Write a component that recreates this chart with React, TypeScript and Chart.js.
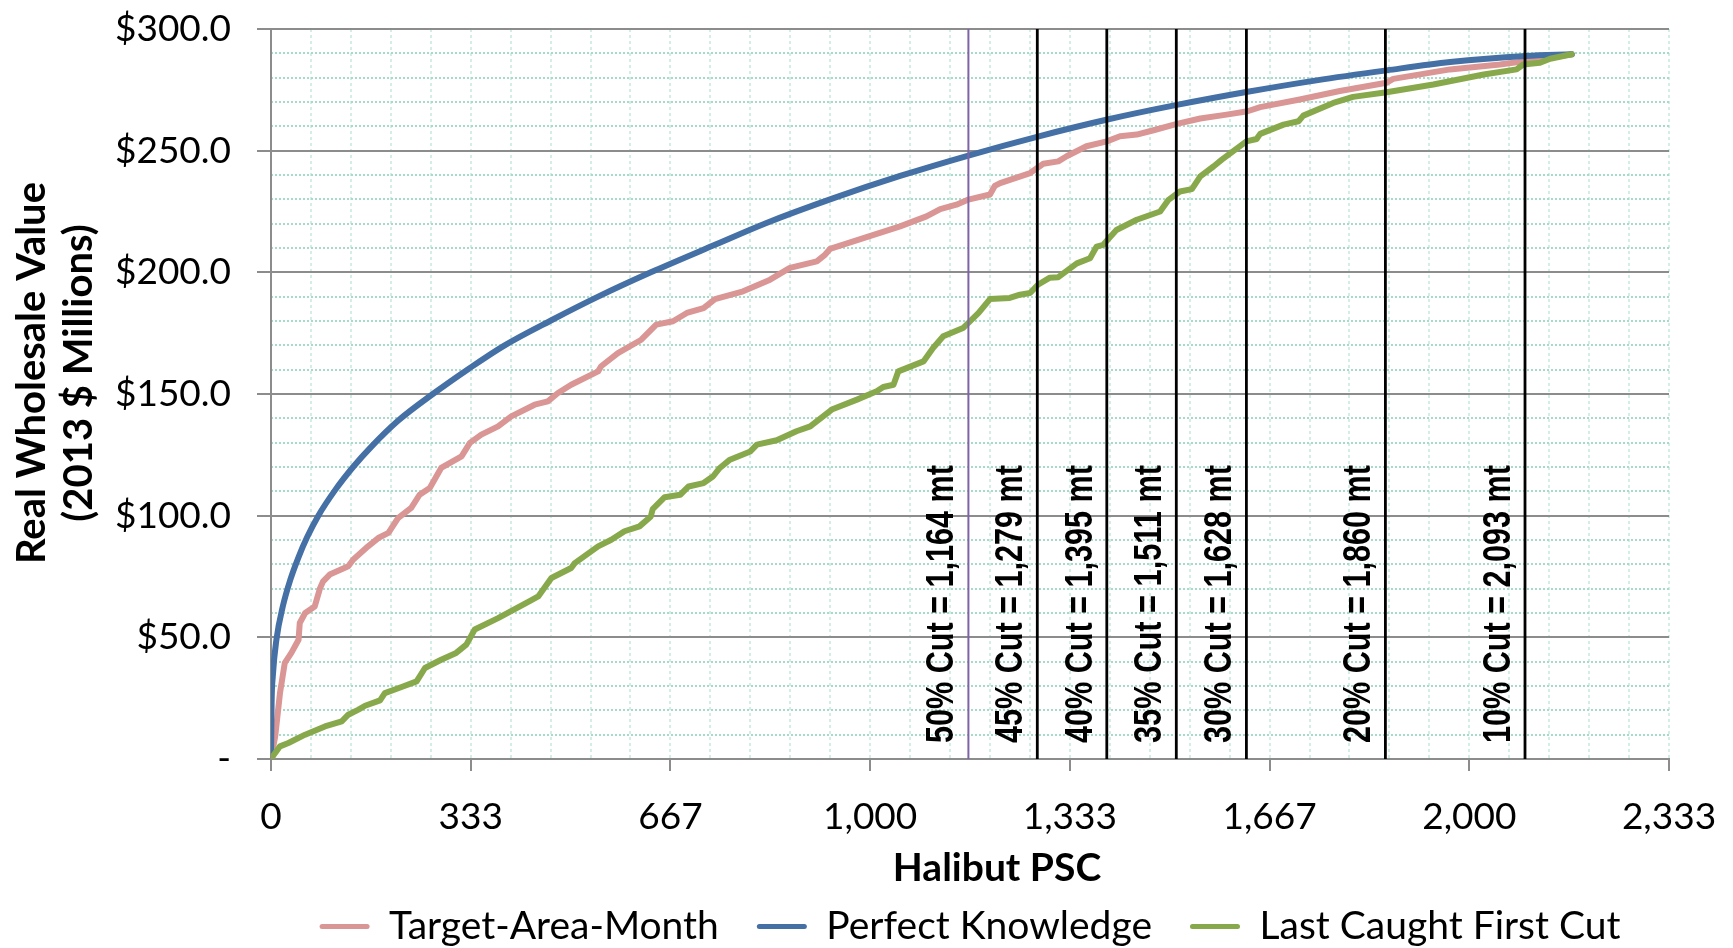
import { useEffect, useRef } from 'react';
import { Chart, registerables } from 'chart.js';

Chart.register(...registerables);

const FONT = 'Lato, "Open Sans", sans-serif';

const seriesNames = ['Target-Area-Month', 'Perfect Knowledge', 'Last Caught First Cut'];
const seriesColors = ['#d99694', '#4470a6', '#88a94b'];

const xTitle = 'Halibut PSC';
const yTitleLines = ['Real Wholesale Value', '(2013 $ Millions)'];

const targetAreaMonth: [number, number][] = [
  [0, 0], [7, 9.3], [15, 27.1], [23, 39.5], [34, 43.6], [46, 49], [48, 55.9], [57, 60], [73, 62.7],
  [82, 70.3], [87, 73], [98, 75.8], [129, 79.2], [137, 81.9], [162, 87.4], [179, 90.8], [196, 92.9],
  [212, 99], [234, 103.2], [248, 108.6], [265, 111.4], [284, 119.6], [318, 124.4], [332, 129.9],
  [351, 133.3], [379, 136.7], [401, 140.8], [440, 145.6], [462, 147], [479, 150.4], [501, 153.8],
  [546, 159.3], [551, 161.4], [579, 166.8], [618, 172.3], [643, 178.5], [671, 179.9], [694, 183.3],
  [722, 185.3], [741, 189], [788, 192.2], [833, 197], [866, 201.8], [911, 204.5], [925, 207.3],
  [933, 209.6], [994, 214.5], [1050, 218.9], [1094, 223], [1117, 226], [1144, 227.8], [1164, 229.9],
  [1200, 232], [1208, 235.5], [1217, 236.7], [1267, 240.8], [1289, 244.6], [1314, 245.6], [1328, 247.7],
  [1361, 251.8], [1395, 253.8], [1417, 255.9], [1445, 256.6], [1473, 258.4], [1512, 261], [1551, 263.2],
  [1595, 264.8], [1630, 266.2], [1651, 267.9], [1717, 271], [1784, 274.5], [1862, 277.9], [1873, 279.5],
  [1968, 283.4], [2051, 285.4], [2094, 286.8], [2124, 287.8], [2171, 289.6],
];

const perfectKnowledge: [number, number][] = [
  [0, 0], [1, 23], [3, 34], [9, 49], [20, 63], [32, 73.5], [46, 83], [60, 91], [79, 100],
  [107, 110.5], [137, 120], [168, 128.5], [212, 139], [273, 150.5], [329, 160.2], [390, 170],
  [468, 180.3], [546, 190], [634, 200], [738, 211], [827, 220.3], [939, 230.5], [1050, 239.6],
  [1164, 248], [1280, 255.8], [1396, 262.8], [1512, 268.8], [1630, 274.2], [1745, 278.9],
  [1862, 283], [1968, 286.4], [2094, 288.9], [2171, 289.6],
];

const lastCaughtFirstCut: [number, number][] = [
  [0, 0], [7, 2.5], [15, 5.2], [29, 6.6], [57, 10], [90, 13.4], [118, 15.5], [129, 18.2], [146, 20.3],
  [157, 21.9], [182, 24.1], [190, 27.1], [218, 29.6], [243, 31.9], [257, 37.4], [284, 40.8], [309, 43.6],
  [326, 47], [340, 53.2], [379, 57.9], [434, 65.2], [446, 66.8], [468, 74.4], [501, 78.5], [507, 80.5],
  [546, 87.4], [568, 90.1], [590, 93.6], [615, 95.6], [634, 99.7], [637, 102.7], [657, 107.6],
  [683, 108.6], [697, 112], [722, 113.4], [738, 116.2], [749, 119.6], [766, 123], [800, 126.4],
  [811, 129.2], [844, 131], [877, 134.7], [900, 136.7], [936, 143.6], [978, 147.7], [1011, 151.1],
  [1022, 152.9], [1039, 153.8], [1047, 159.3], [1089, 163.4], [1105, 168.9], [1122, 173.7],
  [1155, 177.1], [1164, 179.2], [1181, 183.3], [1200, 189], [1233, 189.5], [1250, 190.8], [1267, 191.5],
  [1280, 194.9], [1300, 197.8], [1314, 198], [1345, 203.7], [1367, 205.8], [1378, 210.6], [1389, 211.3],
  [1411, 217.4], [1445, 221.6], [1484, 225], [1498, 229.8], [1517, 233.2], [1537, 234.2], [1551, 239.4],
  [1573, 243.5], [1587, 246.3], [1628, 253.8], [1645, 254.8], [1651, 256.9], [1690, 260.7], [1715, 262.1],
  [1723, 264.4], [1773, 269.6], [1806, 272.1], [1862, 274], [1940, 277.2], [2024, 281.3], [2079, 283.4],
  [2090, 285.4], [2118, 286.1], [2135, 287.8], [2171, 289.6],
];

const cutValues = [1164, 1279, 1395, 1511, 1628, 1860, 2093];
const cutPercents = [50, 45, 40, 35, 30, 20, 10];
const cutColors = ['#7d63a8', '#000000', '#000000', '#000000', '#000000', '#000000', '#000000'];

const xTickLabels = ['0', '333', '667', '1,000', '1,333', '1,667', '2,000', '2,333'];
const yTickLabels = ['-', '$50.0', '$100.0', '$150.0', '$200.0', '$250.0', '$300.0'];

const xMax = 7000 / 3;
const xStep = 1000 / 3;
const xMinorStep = 200 / 3;
const yMax = 300;
const yStep = 50;
const yMinorStep = 10;

const cutLabelPlugin = {
  id: 'cutLabels',
  afterDatasetsDraw(chart: any) {
    const { ctx, scales } = chart;
    const x = scales.x;
    const y = scales.y;
    ctx.save();
    ctx.font = 'bold 38px "Liberation Sans", Arial, sans-serif';
    ctx.fillStyle = '#000';
    ctx.textAlign = 'left';
    ctx.textBaseline = 'alphabetic';
    cutValues.forEach((v, i) => {
      const px = x.getPixelForValue(v);
      const py = y.getPixelForValue(0);
      ctx.save();
      ctx.translate(px - 15, py - 16);
      ctx.rotate(-Math.PI / 2);
      ctx.fillText(`${cutPercents[i]}% Cut = ${v.toLocaleString('en-US')} mt`, 0, 0, 278);
      ctx.restore();
    });
    ctx.restore();
  },
};

const axisTitlePlugin = {
  id: 'axisTitles',
  afterDraw(chart: any) {
    const { ctx, chartArea } = chart;
    ctx.save();
    ctx.fillStyle = '#000';
    ctx.textAlign = 'center';
    ctx.textBaseline = 'middle';
    ctx.font = `bold 39px ${FONT}`;
    ctx.fillText(xTitle, (chartArea.left + chartArea.right) / 2 + 27, chartArea.bottom + 109);
    ctx.font = `bold 40px ${FONT}`;
    const cy = (chartArea.top + chartArea.bottom) / 2 - 21;
    yTitleLines.forEach((line, i) => {
      ctx.save();
      ctx.translate(32 + i * 47, cy);
      ctx.rotate(-Math.PI / 2);
      ctx.fillText(line, 0, 0);
      ctx.restore();
    });
    ctx.restore();
  },
};

export default function App() {
  const ref = useRef<HTMLCanvasElement>(null);

  useEffect(() => {
    document.body.style.margin = '0';
    document.body.style.overflow = 'hidden';
    const canvas = ref.current;
    if (!canvas) return;

    const toPts = (arr: [number, number][]) => arr.map(([x, y]) => ({ x, y }));
    const seriesData = [targetAreaMonth, perfectKnowledge, lastCaughtFirstCut];

    const datasets: any[] = [
      ...seriesData.map((d, i) => ({
        label: seriesNames[i],
        data: toPts(d),
        borderColor: seriesColors[i],
        backgroundColor: seriesColors[i],
        borderWidth: 6,
        pointRadius: 0,
        tension: i === 1 ? 0.4 : 0,
        cubicInterpolationMode: i === 1 ? 'monotone' : 'default',
        borderJoinStyle: 'round',
        borderCapStyle: 'round',
        order: 10 - i,
      })),
      ...cutValues.map((v, i) => ({
        label: `cut${i}`,
        data: [{ x: v, y: 0 }, { x: v, y: yMax }],
        borderColor: cutColors[i],
        backgroundColor: cutColors[i],
        borderWidth: i === 0 ? 2 : 2.8,
        pointRadius: 0,
        order: 0,
      })),
    ];

    const zeroPad = (s: any) => {
      s.paddingTop = 0;
      s.paddingBottom = 0;
      s.paddingLeft = 0;
      s.paddingRight = 0;
    };

    const chart = new Chart(canvas, {
      type: 'line',
      data: { datasets },
      plugins: [cutLabelPlugin, axisTitlePlugin],
      options: {
        responsive: false,
        maintainAspectRatio: false,
        animation: false,
        devicePixelRatio: 1,
        events: [],
        layout: { padding: { top: 29, right: 64, bottom: -8, left: 0 } },
        plugins: {
          tooltip: { enabled: false },
          legend: {
            display: true,
            position: 'bottom',
            fullSize: false,
            labels: {
              font: { family: FONT, size: 39 },
              color: '#000',
              boxWidth: 50,
              boxHeight: 5,
              padding: 38,
              generateLabels: () =>
                seriesNames.map((name, i) => ({
                  text: name,
                  fillStyle: seriesColors[i],
                  strokeStyle: seriesColors[i],
                  lineWidth: 0,
                  hidden: false,
                  datasetIndex: i,
                  fontColor: '#000',
                  borderRadius: 2.5,
                })),
            },
          },
        },
        scales: {
          x: {
            type: 'linear',
            position: 'bottom',
            min: 0,
            max: xMax,
            ticks: {
              stepSize: xStep,
              autoSkip: false,
              maxRotation: 0,
              padding: 24,
              color: '#000',
              font: { family: FONT, size: 37 },
              callback: (_v: any, i: number) => xTickLabels[i] ?? '',
            },
            grid: { drawOnChartArea: false, color: '#8c8c8c', lineWidth: 2, tickLength: 12 },
            border: { display: true, color: '#8c8c8c', width: 2 },
            afterFit: (s: any) => { s.height = 110; zeroPad(s); },
          },
          xMinor: {
            type: 'linear',
            axis: 'x',
            position: 'bottom',
            min: 0,
            max: xMax,
            ticks: { display: false, stepSize: xMinorStep, maxTicksLimit: 1000 },
            grid: { color: '#d3eee5', lineWidth: 2, drawTicks: false, z: -2 },
            border: { display: false, dash: [3, 3] },
            afterFit: (s: any) => { s.height = 0; zeroPad(s); },
          },
          y: {
            type: 'linear',
            position: 'left',
            min: 0,
            max: yMax,
            ticks: {
              stepSize: yStep,
              padding: 26,
              color: '#000',
              font: { family: FONT, size: 37 },
              callback: (_v: any, i: number) => yTickLabels[i] ?? '',
            },
            grid: { color: '#8c8c8c', lineWidth: 2, tickLength: 14 },
            border: { display: true, color: '#8c8c8c', width: 2 },
            afterFit: (s: any) => { s.width = 271; zeroPad(s); },
          },
          yMinor: {
            type: 'linear',
            axis: 'y',
            position: 'left',
            min: 0,
            max: yMax,
            ticks: { display: false, stepSize: yMinorStep, maxTicksLimit: 1000 },
            grid: { color: '#a6dbc8', lineWidth: 2, drawTicks: false, z: -2 },
            border: { display: false, dash: [2, 2] },
            afterFit: (s: any) => { s.width = 0; zeroPad(s); },
          },
        },
      } as any,
    });

    return () => chart.destroy();
  }, []);

  return <canvas ref={ref} width={1733} height={948} style={{ display: 'block' }} />;
}
